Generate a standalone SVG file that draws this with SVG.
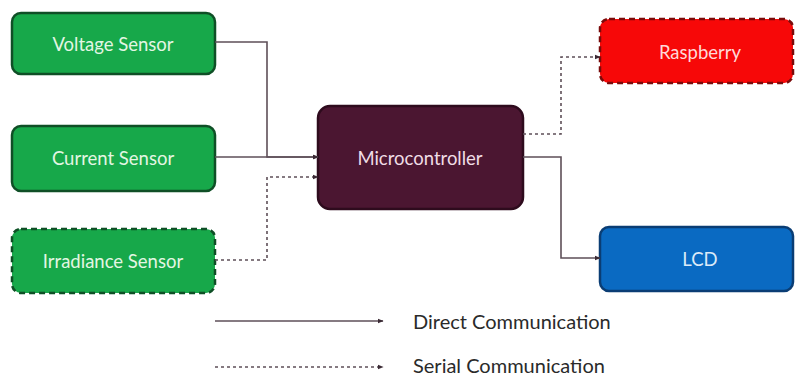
<svg xmlns="http://www.w3.org/2000/svg" width="796" height="377" viewBox="0 0 796 377">
<style>
.box{stroke-width:2.5}
.green{fill:#17a84a;stroke:#0f4f26}
.lbl{font-family:Lato,"Open Sans",sans-serif;font-size:18.5px;text-anchor:middle;dominant-baseline:central}
.conn{fill:none;stroke:#5e4f58;stroke-width:1.6}
.dash{stroke-dasharray:3,3}
.leg{font-family:Lato,"Open Sans",sans-serif;font-size:20px;fill:#2a2a2a;dominant-baseline:central}
</style>
<defs>
<marker id="ah" viewBox="0 0 10 10" refX="9" refY="5" markerWidth="6" markerHeight="6" orient="auto" markerUnits="userSpaceOnUse">
<path d="M0,1 L10,5 L0,9 z" fill="#3a2a34"/>
</marker>
</defs>
<rect width="796" height="377" fill="#ffffff"/>
<g id="voltage"><rect class="box green" x="12" y="13" width="203" height="61" rx="9"/><text class="lbl" x="113" y="44" fill="#e3f6e3">Voltage Sensor</text></g>
<g id="current"><rect class="box green" x="12" y="126" width="203" height="65" rx="9"/><text class="lbl" x="113" y="158" fill="#e3f6e3">Current Sensor</text></g>
<g id="irradiance"><rect class="box green" x="12" y="229" width="203" height="64" rx="9" stroke-dasharray="6,4"/><text class="lbl" x="113" y="261" fill="#e3f6e3">Irradiance Sensor</text></g>
<g id="micro"><rect class="box" x="318" y="106" width="205" height="103" rx="12" fill="#4b1631" stroke="#2e0b1d"/><text class="lbl" x="420" y="158" fill="#f0dde6">Microcontroller</text></g>
<g id="raspberry"><rect class="box" x="600" y="19" width="193" height="64" rx="9" fill="#f70808" stroke="#7a0b0b" stroke-dasharray="6,4"/><text class="lbl" x="700" y="52" fill="#ffd8d8">Raspberry</text></g>
<g id="lcd"><rect class="box" x="600" y="227" width="193" height="64" rx="9" fill="#0a6ac2" stroke="#0a3d74"/><text class="lbl" x="700" y="259" fill="#dceaf8">LCD</text></g>
<g id="connectors">
<path class="conn" d="M215,42 H267 V157 H318" marker-end="url(#ah)"/>
<path class="conn" d="M215,157 H318" marker-end="url(#ah)"/>
<path class="conn dash" d="M215,260 H267 V177 H318" marker-end="url(#ah)"/>
<path class="conn dash" d="M523,134 H561 V57 H600" marker-end="url(#ah)"/>
<path class="conn" d="M523,157 H561 V258 H600" marker-end="url(#ah)"/>
</g>
<g id="legend">
<path class="conn" d="M215,321 H383" marker-end="url(#ah)"/>
<text class="leg" x="413" y="321">Direct Communication</text>
<path class="conn dash" d="M215,367 H383" marker-end="url(#ah)"/>
<text class="leg" x="413" y="365">Serial Communication</text>
</g>
</svg>
